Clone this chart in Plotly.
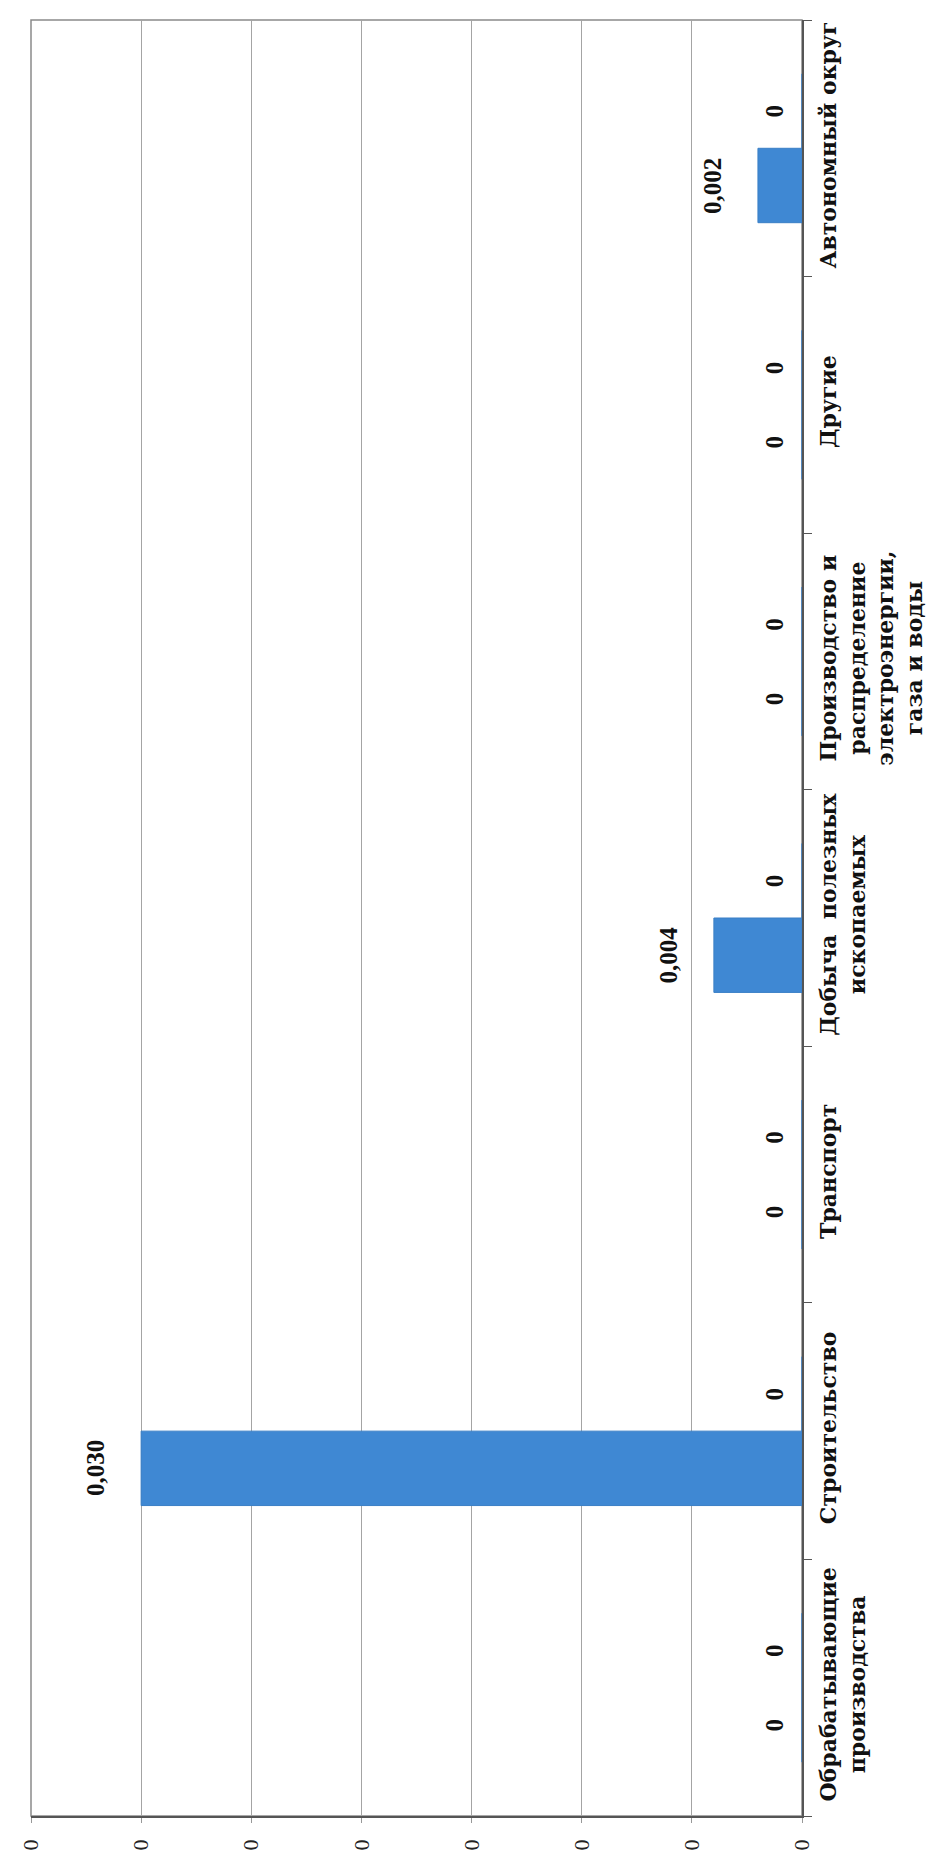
import plotly.graph_objects as go

categories = [
    "Обрабатывающие<br>производства",
    "Строительство",
    "Транспорт",
    "Добыча\u00a0 полезных<br>ископаемых",
    "Производство и<br>распределение<br>электроэнергии,<br>газа и воды",
    "Другие",
    "Автономный округ",
]
series1 = [0, 0.030, 0, 0.004, 0, 0, 0.002]
series2 = [0, 0, 0, 0, 0, 0, 0]
value_ticks = [0, 0.005, 0.010, 0.015, 0.020, 0.025, 0.030, 0.035]
value_tick_labels = ["0", "0", "0", "0", "0", "0", "0", "0"]


def fmt(v):
    return "0" if v == 0 else f"{v:.3f}".replace(".", ",")


SERIF = "Liberation Serif, Times New Roman, serif"
WIDE_SERIF = "DejaVu Serif, Liberation Serif, serif"
BAR_COLOR = "#3F88D3"
W, H = 936, 1851
M = dict(l=23, r=142, t=12, b=43)
BARGAP = 0.42

fig = go.Figure()
for vals in (series1, series2):
    fig.add_trace(go.Bar(
        x=vals,
        y=categories,
        orientation="h",
        marker=dict(color=BAR_COLOR, line=dict(color="#3A7FC6", width=1)),
        showlegend=False,
        hoverinfo="skip",
    ))

# value labels placed just beyond each bar end (grouped offset within category)
band = (H - M["t"] - M["b"]) / len(categories)
offset = band * (1 - BARGAP) / 4
annotations = []
for si, vals in enumerate((series1, series2)):
    ysh = -offset if si == 0 else offset
    for cat, v in zip(categories, vals):
        annotations.append(dict(
            x=v, y=cat, xref="x", yref="y",
            text=fmt(v), showarrow=False, textangle=-90,
            xanchor="right", yanchor="middle",
            xshift=-12 if v == 0 else -30, yshift=ysh,
            font=dict(family=SERIF, size=25, color="#111111", weight="bold"),
        ))

fig.update_layout(
    width=W,
    height=H,
    margin=M,
    paper_bgcolor="white",
    plot_bgcolor="white",
    barmode="group",
    bargap=BARGAP,
    bargroupgap=0,
    font=dict(family=SERIF, color="#111111"),
    annotations=annotations,
    shapes=[dict(type="rect", xref="paper", yref="paper", x0=0, y0=0, x1=1, y1=1,
                 line=dict(color="#8a8a8a", width=1.5), layer="below")],
)

fig.update_xaxes(
    range=[0.035, 0],
    tickvals=value_ticks,
    ticktext=value_tick_labels,
    tickangle=-90,
    tickfont=dict(family=SERIF, size=22, color="#222222"),
    showgrid=True,
    gridcolor="#a4a4a4",
    gridwidth=1,
    zeroline=False,
    showline=True,
    linecolor="#555555",
    linewidth=1.5,
    ticks="outside",
    ticklen=5,
    tickcolor="#999999",
    ticklabelstandoff=8,
    automargin=False,
)

fig.update_yaxes(
    type="category",
    side="right",
    tickangle=-90,
    tickfont=dict(family=WIDE_SERIF, size=22, color="#111111", weight="bold"),
    showgrid=False,
    zeroline=False,
    showline=True,
    linecolor="#555555",
    linewidth=1.5,
    ticks="outside",
    tickson="boundaries",
    ticklen=8,
    tickcolor="#555555",
    ticklabelstandoff=6,
    automargin=False,
)

fig.write_html("out.html")
